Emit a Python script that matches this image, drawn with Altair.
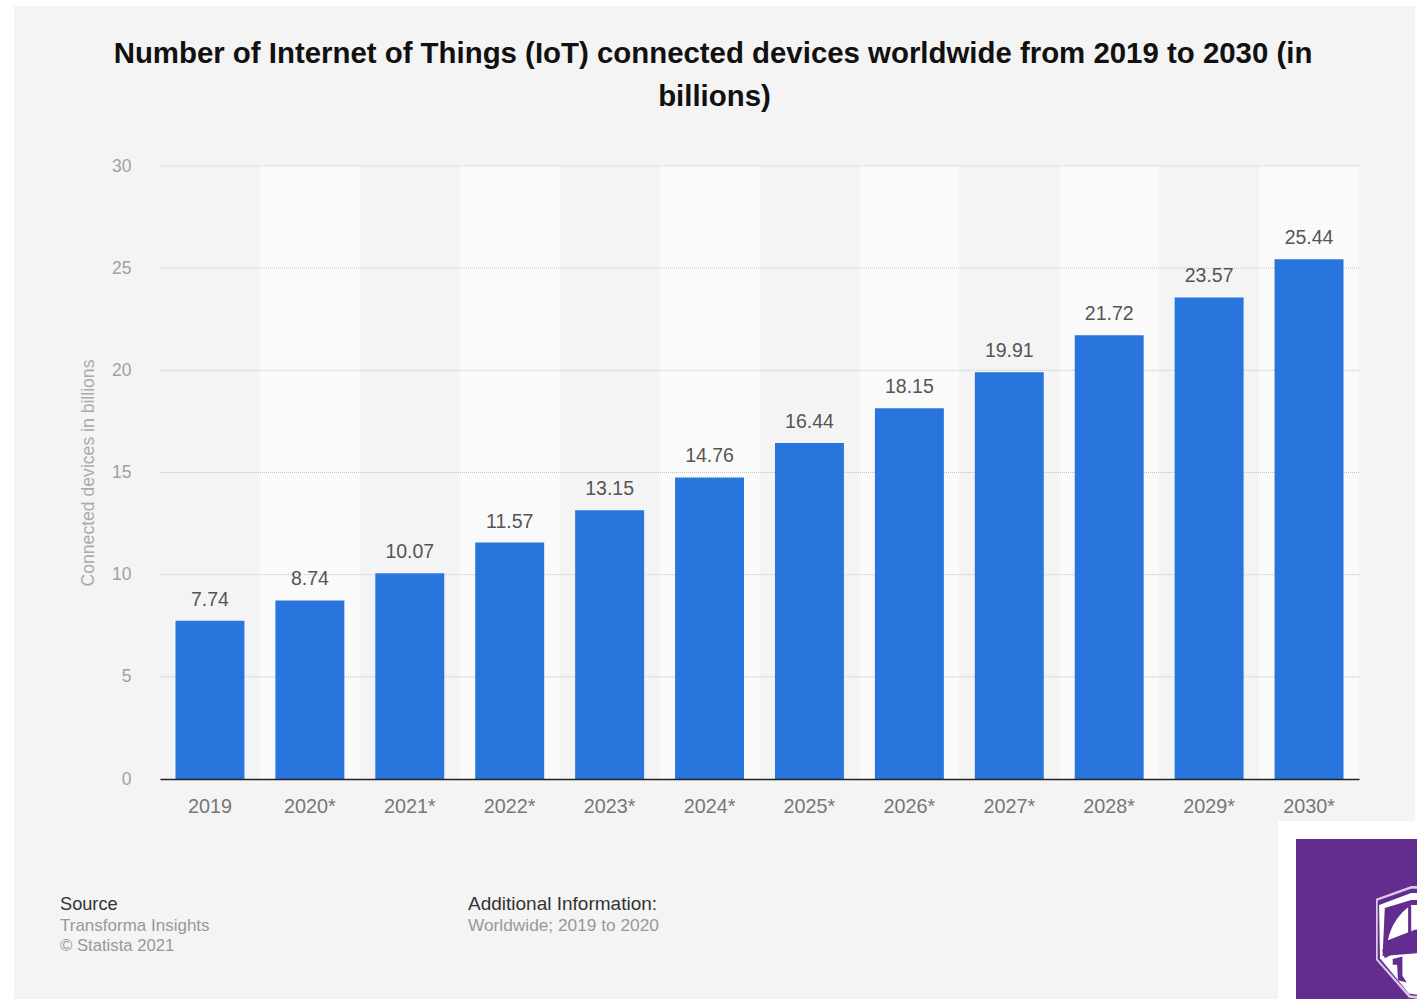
import altair as alt
import pandas as pd

# Connected IoT devices per year, in billions
years = ["2019", "2020*", "2021*", "2022*", "2023*", "2024*", "2025*", "2026*", "2027*", "2028*", "2029*", "2030*"]
devices = [7.74, 8.74, 10.07, 11.57, 13.15, 14.76, 16.44, 18.15, 19.91, 21.72, 23.57, 25.44]
shaded_years = ["2020*", "2022*", "2024*", "2026*", "2028*", "2030*"]
y_ticks = [0, 5, 10, 15, 20, 25, 30]

title_lines = ["Number of Internet of Things (IoT) connected devices worldwide from 2019 to 2030 (in", "billions)"]
source_heading = "Source"
source_lines = ["Transforma Insights", "© Statista 2021"]
info_heading = "Additional Information:"
info_lines = ["Worldwide; 2019 to 2020"]

FONT = "Liberation Sans"
LEFT, TOP = 160, 166
PLOT_W, PLOT_H = 1199, 613
PURPLE = "#622d8f"

bars = pd.DataFrame({"year": years, "devices": devices})
one = alt.Data(values=[{"k": 0}])
x_enc = alt.X("year:N", sort=years, scale=alt.Scale(paddingInner=0, paddingOuter=0))
y_scale = alt.Scale(domain=[0, 30], nice=False)


def page_rect(x0, x1, y0, y1, color):
    # Rectangle placed in page pixels, outside the plot's data scales
    return alt.Chart(one).mark_rect(color=color).encode(
        x=alt.value(x0 - LEFT), x2=alt.value(x1 - LEFT),
        y=alt.value(y0 - TOP), y2=alt.value(y1 - TOP),
    )


def page_text(content, x, y, size, color, weight="normal", align="left"):
    return alt.Chart(one).mark_text(
        text=content, font=FONT, fontSize=size, color=color, fontWeight=weight,
        align=align, baseline="alphabetic",
    ).encode(x=alt.value(x - LEFT), y=alt.value(y - TOP))


def badge_shape(path, half_width, cx, cy, color):
    return alt.Chart(one).mark_point(
        shape=path, filled=True, color=color, opacity=1, size=(2 * half_width) ** 2,
    ).encode(x=alt.value(cx - LEFT), y=alt.value(cy - TOP))


stripes = alt.Chart(pd.DataFrame({"year": shaded_years})).mark_bar(
    color="#fafafa", width=alt.RelativeBandSize(band=1)
).encode(x=x_enc, y=alt.value(0), y2=alt.value(PLOT_H))

grid = alt.Chart(pd.DataFrame({"tick": y_ticks[1:]})).mark_rule(
    color="#c4c4c4", strokeDash=[1, 1], strokeWidth=1
).encode(y=alt.Y("tick:Q", scale=y_scale))

columns = alt.Chart(bars).mark_bar(
    color="#2775dd", width=alt.RelativeBandSize(band=0.69)
).encode(
    x=alt.X("year:N", sort=years, scale=alt.Scale(paddingInner=0, paddingOuter=0),
            axis=alt.Axis(title=None, labelFont=FONT, labelFontSize=19.8, labelColor="#777777",
                          labelAngle=0, labelAlign="center", labelPadding=27, ticks=False,
                          domainColor="#222222", domainWidth=1.6, grid=False, zindex=1)),
    y=alt.Y("devices:Q", scale=y_scale,
            axis=alt.Axis(title="Connected devices in billions", titleFont=FONT, titleFontSize=17.6,
                          titleFontWeight="normal", titleColor="#aaaaaa", titlePadding=14,
                          labelFont=FONT, labelFontSize=17.5, labelColor="#a0a0a0", labelPadding=29,
                          values=y_ticks, ticks=False, domain=False, grid=False)),
)

value_labels = alt.Chart(bars).mark_text(
    font=FONT, fontSize=19.5, color="#555555", baseline="alphabetic", dy=-15
).encode(
    x=alt.X("year:N", sort=years),
    y=alt.Y("devices:Q", scale=y_scale),
    text=alt.Text("devices:Q", format=".2f"),
)

layers = [stripes, grid, columns, value_labels]

# Page margins and footer
layers += [
    page_rect(0, 1417, 0, 6, "#ffffff"),
    page_rect(0, 14, 0, 999, "#ffffff"),
    page_rect(1415, 1417, 0, 821, "#ffffff"),
]
layers += [
    page_text(title_lines[0], 713, 63, 29.4, "#111111", "bold", "center"),
    page_text(title_lines[1], 714.5, 106, 29.4, "#111111", "bold", "center"),
    page_text(source_heading, 60, 910, 18.2, "#333333"),
    page_text(source_lines[0], 60, 931, 17, "#999999"),
    page_text(source_lines[1], 60, 951, 16.7, "#999999"),
    page_text(info_heading, 468, 910, 19, "#333333"),
    page_text(info_lines[0], 468, 931, 17.3, "#999999"),
]

# Corner badge with its shield crest
layers += [page_rect(1278, 1417, 821, 999, "#ffffff"), page_rect(1296, 1417, 839, 999, PURPLE)]
crest = [
    ("M-1,-1.05 L-0.2,-1.34 L1,-1.34 L1,1.35 L-0.25,1.2 L-1,0.34 Z", "#d9c9e8"),
    ("M-0.96,-1.01 L-0.2,-1.28 L1,-1.28 L1,1.3 L-0.22,1.14 L-0.96,0.32 Z", PURPLE),
    ("M-0.93,-0.91 L-0.2,-1.18 L1,-1.18 L1,1.3 L-0.25,1.1 L-0.91,0.3 Z", "#ffffff"),
    ("M-0.8,-0.84 L-0.2,-1.02 L1,-1.02 L1,0.1 L-0.85,0.25 Z", PURPLE),
    ("M-0.73,-0.11 Q-0.62,-0.62 -0.2,-0.91 L1,-0.91 L1,-0.35 L-0.1,-0.35 Z", "#ffffff"),
    ("M-0.27,-0.9 L-0.2,-0.9 L-0.2,-0.2 L-0.27,-0.2 Z", PURPLE),
    ("M-0.86,0.11 L-0.09,-0.23 L1,-0.23 L1,-0.07 L-0.09,-0.07 L-0.8,0.3 Z", PURPLE),
    ("M-0.62,0.32 L-0.4,0.26 L-0.4,0.7 L-0.3,0.85 L-0.5,0.8 L-0.52,0.45 L-0.62,0.45 Z", PURPLE),
]
for path, color in crest:
    layers.append(badge_shape(path, 44, 1420, 945, color))

chart = alt.layer(*layers).properties(
    width=PLOT_W, height=PLOT_H, background="#f4f4f4",
    padding={"left": LEFT, "top": TOP, "right": 1417 - LEFT - PLOT_W, "bottom": 999 - TOP - PLOT_H},
    autosize=alt.AutoSizeParams(type="none"),
).configure_view(stroke=None)

chart.save("out.html", embed_options={"renderer": "svg", "actions": False})
